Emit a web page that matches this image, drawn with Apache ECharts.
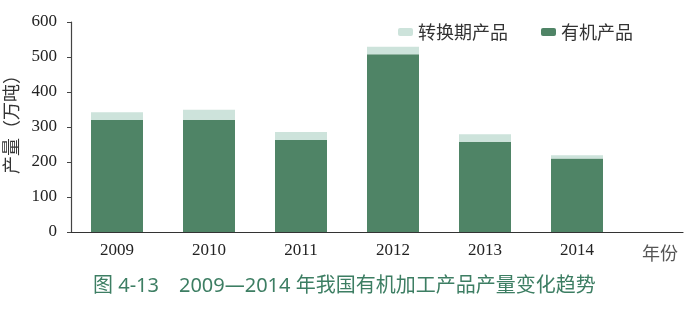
<!DOCTYPE html>
<html>
<head>
<meta charset="utf-8">
<script src="https://cdn.jsdelivr.net/npm/echarts@6/dist/echarts.min.js"></script>
<style>html,body{margin:0;padding:0;background:#fff}#c{width:700px;height:314px}</style>
</head>
<body>
<div id="c"></div>
<script>
const years = ['2009', '2010', '2011', '2012', '2013', '2014'];
const organic = [320, 321, 263, 508, 258, 210];
const conversion = [22, 28, 23, 21, 21, 9];
const yTicks = { min: 0, max: 600, interval: 100 };
const seriesNames = ['有机产品', '转换期产品'];
const caption = '图 4-13\u30002009—2014 年我国有机加工产品产量变化趋势';

const serif = "'Liberation Serif', 'DejaVu Serif', serif";
const cjk = "'Noto Sans CJK SC', sans-serif";
const chart = echarts.init(document.getElementById('c'));
chart.setOption({
  animation: false,
  backgroundColor: '#ffffff',
  title: {
    text: caption,
    left: 88, top: 271,
    textStyle: { color: '#3d7e63', fontSize: 20, fontWeight: 'normal', fontFamily: "'Noto Sans', " + cjk }
  },
  legend: {
    data: [seriesNames[1], seriesNames[0]],
    left: 393, top: 18,
    itemWidth: 15, itemHeight: 8, itemGap: 33,
    textStyle: { fontSize: 18, color: '#333', fontFamily: cjk }
  },
  grid: [
    { left: 71, right: 77, top: 22, bottom: 82, containLabel: false, outerBoundsMode: 'none' },
    { left: 71, right: 17, top: 22, bottom: 82, containLabel: false, outerBoundsMode: 'none' }
  ],
  xAxis: [
    {
      type: 'category', gridIndex: 0, data: years,
      axisLine: { show: true, lineStyle: { color: '#333', width: 1.2 } },
      axisTick: { show: false },
      axisLabel: { color: '#222', fontSize: 17, fontFamily: serif, margin: 10 }
    },
    {
      type: 'value', gridIndex: 1, min: 0, max: 1,
      axisLine: { show: true, onZero: false, lineStyle: { color: '#333', width: 1.2 } },
      axisTick: { show: false }, axisLabel: { show: false }, splitLine: { show: false },
      name: '年份', nameLocation: 'end', nameGap: -41,
      nameTextStyle: { color: '#555', fontSize: 18, fontFamily: cjk, align: 'left', verticalAlign: 'top', padding: [12, 0, 0, 0] }
    }
  ],
  yAxis: [
    {
      type: 'value', gridIndex: 0, min: yTicks.min, max: yTicks.max, interval: yTicks.interval,
      name: '产量（万吨）', nameLocation: 'middle', nameRotate: 90, nameGap: 51,
      nameTextStyle: { color: '#333', fontSize: 18, fontFamily: cjk, padding: [0, 0, 0, 14] },
      axisLine: { show: true, lineStyle: { color: '#444', width: 1.2 } },
      axisTick: { show: true, length: 4, inside: false, lineStyle: { color: '#444' } },
      axisLabel: { color: '#222', fontSize: 17, fontFamily: serif, margin: 14 },
      splitLine: { show: false }
    },
    { type: 'value', gridIndex: 1, min: 0, max: 1, show: false }
  ],
  series: [
    {
      name: seriesNames[0], type: 'bar', stack: 'total', data: organic,
      xAxisIndex: 0, yAxisIndex: 0, barWidth: 52,
      itemStyle: { color: '#4f8466' }
    },
    {
      name: seriesNames[1], type: 'bar', stack: 'total', data: conversion,
      xAxisIndex: 0, yAxisIndex: 0, barWidth: 52,
      itemStyle: { color: '#cde3db' }
    }
  ]
});
</script>
</body>
</html>
